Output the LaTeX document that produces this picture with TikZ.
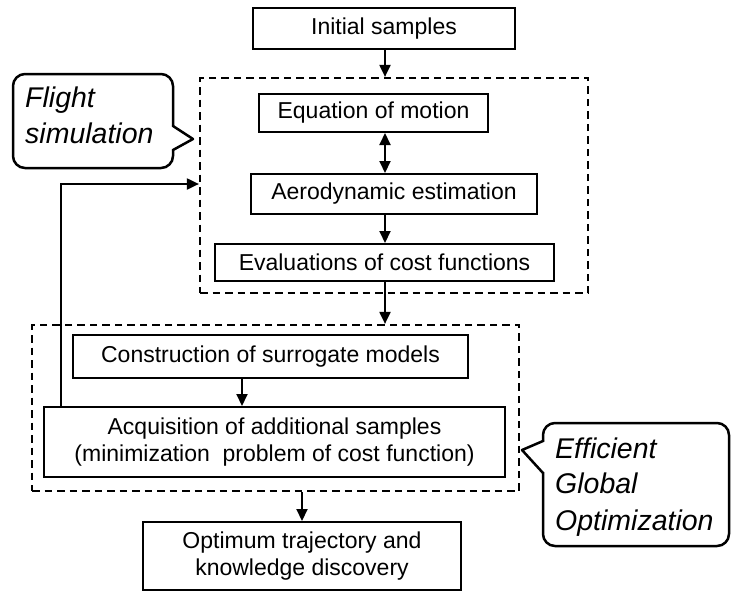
\documentclass[tikz,border=0pt]{standalone}
\usepackage{fontspec}
\setmainfont{Liberation Sans}
\usetikzlibrary{arrows.meta}
\begin{document}
\begin{tikzpicture}[x=1pt,y=-1pt,
  box/.style={draw, line width=2pt, inner sep=0pt, align=center, font=\fontsize{23}{27.5}\selectfont},
  grp/.style={draw, line width=2.2pt, dash pattern=on 7.5pt off 5pt, inner sep=0pt},
  arr/.style={line width=2pt, -{Triangle[length=12pt,width=11pt]}},
  arrboth/.style={line width=2pt, {Triangle[length=12pt,width=11pt]}-{Triangle[length=12pt,width=11pt]}},
  call/.style={draw, line width=2.5pt, line join=round, line cap=round},
  ctext/.style={anchor=base west, inner sep=0pt, font=\fontsize{28.5}{36}\selectfont\itshape}]
\useasboundingbox (0,0) rectangle (731,592);

% groups
\node[grp, minimum width=388pt, minimum height=215pt] (g1) at (394,185.5) {};
\node[grp, minimum width=487pt, minimum height=166pt] (g2) at (275.5,408) {};

% boxes
\node[box, minimum width=262pt, minimum height=41pt] (init) at (384,28.5) {Initial samples};
\node[box, minimum width=229pt, minimum height=38pt] (eom) at (373.5,113) {Equation of motion};
\node[box, minimum width=286pt, minimum height=40pt] (aero) at (394,194) {Aerodynamic estimation};
\node[box, minimum width=339pt, minimum height=37pt] (eval) at (384.5,262.5) {Evaluations of cost functions};
\node[box, minimum width=395pt, minimum height=43pt] (cons) at (270.5,356.5) {Construction of surrogate models};
\node[box, minimum width=461pt, minimum height=70pt] (acq) at (274.5,442) {Acquisition of additional samples\\(minimization\ \ problem of cost function)};
\node[box, minimum width=318pt, minimum height=68pt] (opt) at (302,556) {Optimum trajectory and\\knowledge discovery};

% column coordinates
\coordinate (c1) at (385,0);
\coordinate (c2) at (242,0);
\coordinate (c3) at (61,0);
\coordinate (c4) at (0,184);

% connectors
\draw[arr] (c1 |- init.south) -- (c1 |- g1.north);
\draw[arrboth] (c1 |- eom.south) -- (c1 |- aero.north);
\draw[arr] (c1 |- aero.south) -- (c1 |- eval.north);
\draw[arr] (c1 |- eval.south) -- (c1 |- g2.north);
\draw[arr] (c2 |- cons.south) -- (c2 |- acq.north);
\draw[arr] (opt.north |- g2.south) -- (opt.north);
\draw[arr] (c3 |- acq.north) |- (g1.west |- c4);

% callout: Flight simulation
\draw[call, rounded corners=12pt] (13,74) rectangle (173,168);
\fill[white] (170,127) rectangle (176,149);
\draw[call] (173,126) -- (193,139) -- (173,150);
\node[ctext] (fs1) at (25,107) {Flight};
\node[ctext] (fs2) at (25,143) {simulation};

% callout: Efficient Global Optimization
\draw[call, rounded corners=12pt] (543,423) rectangle (729,546);
\fill[white] (540,442) rectangle (546,472);
\draw[call] (543,441) -- (522,450) -- (543,473);
\node[ctext] (eg1) at (555,458) {Efficient};
\node[ctext] (eg2) at (555,493) {Global};
\node[ctext] (eg3) at (555,530) {Optimization};
\end{tikzpicture}
\end{document}
